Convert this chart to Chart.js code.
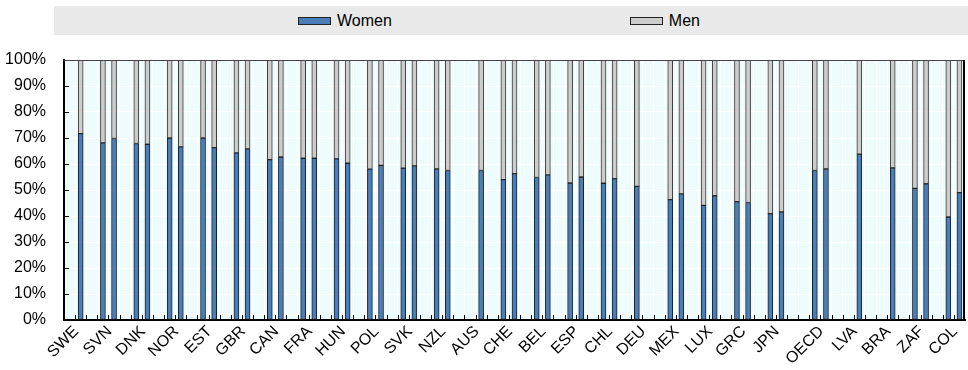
<!DOCTYPE html>
<html>
<head>
<meta charset="utf-8">
<script src="https://cdn.jsdelivr.net/npm/chart.js@4.4.1/dist/chart.umd.min.js"></script>
<style>
  html, body { margin: 0; padding: 0; background: #ffffff; }
  #wrap { position: relative; width: 968px; height: 370px; overflow: hidden; }
  #chart { position: absolute; left: 0; top: 0; }
  #legend {
    position: absolute; left: 54px; top: 6px; width: 914px; height: 29px;
    background: #e9e9e9; display: flex; align-items: center;
    padding-left: 244px; box-sizing: border-box;
    font-family: 'Liberation Sans', Arial, sans-serif; font-size: 16px; color: #000;
  }
  .item { display: flex; align-items: center; }
  .box { display: inline-block; width: 33px; height: 8px; border: 1px solid #222; margin-right: 6px; box-sizing: border-box; }
  .gap { width: 238px; }
</style>
</head>
<body>
<div id="wrap">
  <canvas id="chart" width="968" height="370"></canvas>
  <div id="legend">
    <span class="item"><span class="box" style="background:#4a7ebb"></span>Women</span>
    <span class="gap"></span>
    <span class="item"><span class="box" style="background:#cccccc"></span>Men</span>
  </div>
</div>
<script>
// ---- data (shares in %, two observations per country; null = not available) ----
const countries = ['SWE','SVN','DNK','NOR','EST','GBR','CAN','FRA','HUN','POL','SVK','NZL','AUS','CHE','BEL','ESP','CHL','DEU','MEX','LUX','GRC','JPN','OECD','LVA','BRA','ZAF','COL'];
const women1 = [null,68.1,67.9,70.0,70.0,64.3,61.7,62.2,62.0,58.0,58.4,58.1,null,54.0,54.8,52.7,52.6,51.4,46.3,44.1,45.5,40.9,57.5,null,null,50.6,39.6];
const men1   = [null,31.9,32.1,30.0,30.0,35.7,38.3,37.8,38.0,42.0,41.6,41.9,null,46.0,45.2,47.3,47.4,48.6,53.7,55.9,54.5,59.1,42.5,null,null,49.4,60.4];
const women2 = [71.7,69.8,67.6,66.6,66.3,65.8,62.7,62.2,60.3,59.5,59.3,57.5,57.5,56.3,55.8,55.0,54.4,null,48.5,47.8,45.2,41.6,58.1,63.8,58.5,52.4,49.0];
const men2   = [28.3,30.2,32.4,33.4,33.7,34.2,37.3,37.8,39.7,40.5,40.7,42.5,42.5,43.7,44.2,45.0,45.6,null,51.5,52.2,54.8,58.4,41.9,36.2,41.5,47.6,51.0];
const yTicks = [0,10,20,30,40,50,60,70,80,90,100];

// ---- layout of slots (3 per country, extra gap before the OECD group) ----
const gapBefore = countries.indexOf('OECD');
const groupStart = countries.map((c, k) => 3 * k + (k >= gapBefore ? 1 : 0));
const totalSlots = groupStart[groupStart.length - 1] + 2;

function points(arr, offset) {
  const out = [];
  arr.forEach((v, k) => { if (v !== null) out.push({ x: groupStart[k] + offset + 0.5, y: v }); });
  return out;
}
const womenData = points(women1, 0).concat(points(women2, 1));
const menData = points(men1, 0).concat(points(men2, 1));

const FONT = "'Liberation Sans', Arial, sans-serif";
Chart.defaults.font.family = FONT;
Chart.defaults.font.size = 16;
Chart.defaults.color = '#000';

// target plot frame
const AREA = { left: 64, right: 965, bottom: 320 };
let yWidthAdj = 0, xHeightAdj = 0;

const framePlugin = {
  id: 'frame',
  beforeDraw(chart) {
    const a = chart.chartArea, ctx = chart.ctx;
    ctx.save();
    ctx.fillStyle = '#eefcfd';
    ctx.fillRect(a.left, a.top, a.right - a.left, a.bottom - a.top);
    ctx.restore();
  },
  afterDatasetsDraw(chart) {
    const a = chart.chartArea, ctx = chart.ctx;
    const xs = chart.scales.x, ys = chart.scales.y;
    ctx.save();
    ctx.strokeStyle = '#000';
    ctx.lineWidth = 1;
    ctx.beginPath();
    for (let i = 1; i < totalSlots; i++) {
      const px = Math.round(xs.getPixelForValue(i)) + 0.5;
      ctx.moveTo(px, a.bottom); ctx.lineTo(px, a.bottom - 5);
    }
    yTicks.forEach(v => {
      if (v === 0 || v === 100) return;
      const py = Math.round(ys.getPixelForValue(v)) + 0.5;
      ctx.moveTo(a.left, py); ctx.lineTo(a.left + 5, py);
    });
    ctx.stroke();
    ctx.beginPath();
    ctx.strokeStyle = '#444';
    ctx.lineWidth = 1;
    ctx.moveTo(a.left, Math.round(a.top) + 0.5); ctx.lineTo(a.right, Math.round(a.top) + 0.5);
    ctx.stroke();
    ctx.beginPath();
    ctx.strokeStyle = '#000';
    ctx.lineWidth = 2;
    ctx.moveTo(a.right - 1, a.top); ctx.lineTo(a.right - 1, a.bottom);
    ctx.stroke();
    ctx.restore();
  },
  afterDraw(chart) {
    // country category labels under each pair of bars, rotated 45°
    const a = chart.chartArea, ctx = chart.ctx, xs = chart.scales.x;
    ctx.save();
    ctx.font = '16px ' + FONT;
    ctx.fillStyle = '#000';
    ctx.textAlign = 'right';
    ctx.textBaseline = 'middle';
    countries.forEach((c, k) => {
      const px = xs.getPixelForValue(groupStart[k] + 1);
      ctx.save();
      ctx.translate(px + 1, a.bottom + 9);
      ctx.rotate(-Math.PI / 4);
      ctx.fillText(c, 0, 0);
      ctx.restore();
    });
    ctx.restore();
  }
};

const chart = new Chart(document.getElementById('chart'), {
  type: 'bar',
  data: {
    datasets: [
      { label: 'Women', data: womenData, backgroundColor: '#4a7ebb', borderColor: '#1e1e1e', borderWidth: 1, borderSkipped: false, barThickness: 5 },
      { label: 'Men', data: menData, backgroundColor: '#cccccc', borderColor: '#3a3a3a', borderWidth: 1, borderSkipped: false, barThickness: 5 }
    ]
  },
  options: {
    responsive: false,
    animation: false,
    layout: { padding: { top: 60, left: 5, right: 3, bottom: 0 } },
    plugins: { legend: { display: false }, tooltip: { enabled: false } },
    scales: {
      x: {
        type: 'linear', stacked: true, min: 0, max: totalSlots, offset: false,
        afterBuildTicks(scale) {
          const t = [];
          for (let i = 0; i <= totalSlots; i++) t.push({ value: i });
          scale.ticks = t;
        },
        afterFit(scale) { scale.height = 50 + xHeightAdj; },
        ticks: { display: false },
        grid: { color: '#ffffff', lineWidth: 1, drawTicks: false, offset: false },
        border: { display: true, color: '#000', width: 2 }
      },
      y: {
        stacked: true, min: 0, max: 100,
        afterBuildTicks(scale) { scale.ticks = yTicks.map(v => ({ value: v })); },
        afterFit(scale) { scale.width = scale.width - yWidthAdj; },
        ticks: { padding: 18, callback: (v) => v + '%' },
        grid: { color: '#ffffff', lineWidth: 1, drawTicks: false },
        border: { display: true, color: '#000', width: 2 }
      }
    }
  },
  plugins: [framePlugin]
});

// align the plot frame with the target (compensates for layout differences)
(function align() {
  let a = chart.chartArea;
  const dl = a.left - AREA.left;
  const db = a.bottom - AREA.bottom;
  if (Math.abs(dl) > 0.5 || Math.abs(db) > 0.5) {
    yWidthAdj = dl;
    xHeightAdj = db;
    chart.update();
    a = chart.chartArea;
    const dl2 = a.left - AREA.left;
    if (Math.abs(dl2) > 0.5) {
      // width change did not move the plot: shift through the outer padding instead
      yWidthAdj = 0;
      chart.options.layout.padding.left = 5 - dl;
      chart.update();
    }
  }
  a = chart.chartArea;
  const dr = AREA.right - a.right;
  if (Math.abs(dr) > 0.5) {
    chart.options.layout.padding.right = Math.max(0, 3 - dr);
    chart.update();
  }
})();
</script>
</body>
</html>
